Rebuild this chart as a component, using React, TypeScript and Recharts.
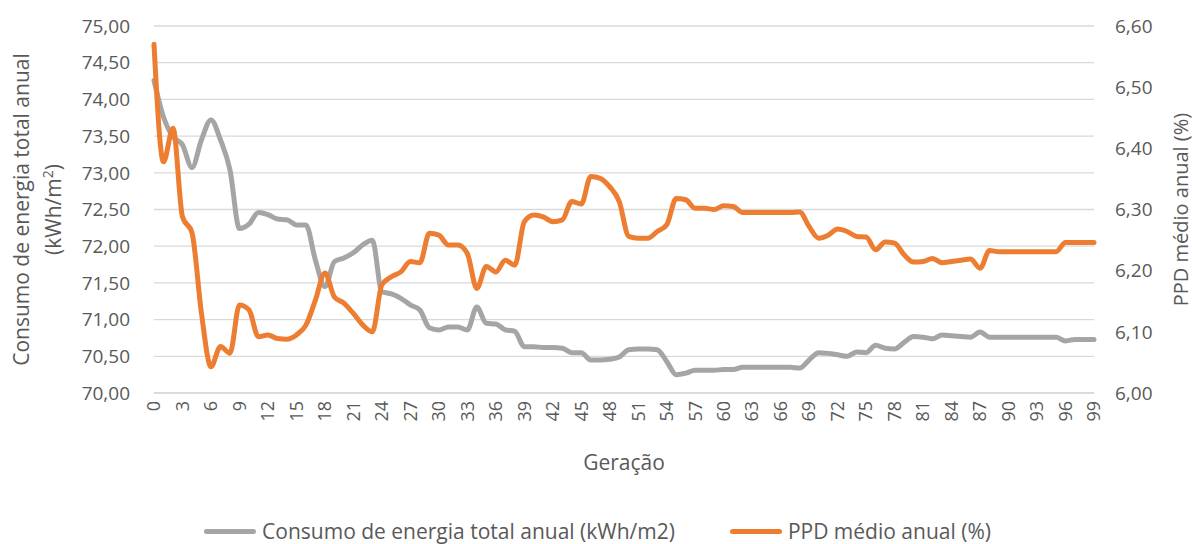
import { LineChart, Line, XAxis, YAxis, CartesianGrid, Legend } from 'recharts';

const FONT = '"Open Sans", sans-serif';
const TEXT = '#595959';

// categories: generation index
const generations = Array.from({ length: 100 }, (_, i) => i);

// Consumo de energia total anual (kWh/m2) - left axis
const consumo = [
  74.26, 73.76, 73.49, 73.38, 73.07, 73.45, 73.72, 73.45, 73.04, 72.24,
  72.3, 72.46, 72.43, 72.37, 72.36, 72.29, 72.29, 71.81, 71.45, 71.79,
  71.84, 71.91, 72.02, 72.08, 71.38, 71.35, 71.29, 71.2, 71.13, 70.89,
  70.86, 70.9, 70.9, 70.86, 71.17, 70.95, 70.94, 70.86, 70.84, 70.63,
  70.63, 70.62, 70.62, 70.61, 70.55, 70.55, 70.45, 70.45, 70.46, 70.49,
  70.59, 70.6, 70.6, 70.59, 70.43, 70.25, 70.27, 70.31, 70.31, 70.31,
  70.32, 70.32, 70.35, 70.35, 70.35, 70.35, 70.35, 70.35, 70.34, 70.45,
  70.55, 70.54, 70.52, 70.5, 70.56, 70.55, 70.65, 70.61, 70.6, 70.69,
  70.77, 70.76, 70.74, 70.79, 70.78, 70.77, 70.76, 70.83, 70.76, 70.76,
  70.76, 70.76, 70.76, 70.76, 70.76, 70.76, 70.71, 70.73, 70.73, 70.73,
];

// PPD médio anual (%) - right axis
const ppd = [
  6.57, 6.378, 6.433, 6.288, 6.262, 6.13, 6.043, 6.076, 6.065, 6.144,
  6.136, 6.092, 6.095, 6.089, 6.088, 6.095, 6.111, 6.152, 6.196, 6.157,
  6.147, 6.13, 6.111, 6.1, 6.177, 6.19, 6.198, 6.215, 6.213, 6.261,
  6.258, 6.242, 6.242, 6.228, 6.171, 6.207, 6.198, 6.217, 6.209, 6.28,
  6.291, 6.288, 6.28, 6.283, 6.313, 6.309, 6.354, 6.351, 6.337, 6.313,
  6.256, 6.253, 6.253, 6.264, 6.275, 6.318, 6.316, 6.302, 6.302, 6.3,
  6.306, 6.305, 6.295, 6.295, 6.295, 6.295, 6.295, 6.295, 6.296, 6.272,
  6.253, 6.258, 6.268, 6.264, 6.256, 6.255, 6.234, 6.247, 6.245, 6.226,
  6.214, 6.215, 6.22, 6.213, 6.215, 6.217, 6.219, 6.204, 6.233, 6.231,
  6.231, 6.231, 6.231, 6.231, 6.231, 6.231, 6.246, 6.246, 6.246, 6.246,
];

const leftTicks = [70, 70.5, 71, 71.5, 72, 72.5, 73, 73.5, 74, 74.5, 75];
const rightTicks = [6, 6.1, 6.2, 6.3, 6.4, 6.5, 6.6];

const data = generations.map((g, i) => ({
  gen: g,
  consumo: consumo[i],
  ppd: ppd[i],
}));

const fmt = (v: number) => v.toFixed(2).replace('.', ',');

function GenTick({ x, y, payload }: any) {
  return (
    <text
      x={x}
      y={y}
      transform={`rotate(-90, ${x}, ${y})`}
      textAnchor="end"
      dy="0.35em"
      fill={TEXT}
      fontSize={18}
      fontFamily={FONT}
    >
      {payload.value}
    </text>
  );
}

function LeftTitle(props: any) {
  const vb = props.viewBox || { x: 0, y: 26, width: 154, height: 367 };
  const cy = vb.y + vb.height / 2;
  const x1 = vb.x + 22;
  const x2 = vb.x + 54;
  return (
    <g fill={TEXT} fontFamily={FONT} fontSize={21}>
      <text x={x1} y={cy} transform={`rotate(-90, ${x1}, ${cy})`} textAnchor="middle" dy="0.35em">
        Consumo de energia total anual
      </text>
      <text x={x2} y={cy} transform={`rotate(-90, ${x2}, ${cy})`} textAnchor="middle" dy="0.35em">
        (kWh/m<tspan dy={-8} fontSize={14}>2</tspan><tspan dy={8}>)</tspan>
      </text>
    </g>
  );
}

function RightTitle(props: any) {
  const vb = props.viewBox || { x: 1094, y: 26, width: 101, height: 367 };
  const cy = vb.y + vb.height / 2;
  const x = vb.x + 87;
  return (
    <text
      x={x}
      y={cy}
      transform={`rotate(-90, ${x}, ${cy})`}
      textAnchor="middle"
      dy="0.35em"
      fill={TEXT}
      fontFamily={FONT}
      fontSize={20}
    >
      PPD médio anual (%)
    </text>
  );
}

function BottomTitle(props: any) {
  const vb = props.viewBox || { x: 154, y: 393, width: 940, height: 111 };
  const cx = vb.x + vb.width / 2;
  return (
    <text x={cx} y={vb.y + 70} textAnchor="middle" dy="0.35em" fill={TEXT} fontFamily={FONT} fontSize={21}>
      Geração
    </text>
  );
}

function LegendContent({ payload }: any) {
  return (
    <div
      style={{
        display: 'flex',
        justifyContent: 'center',
        alignItems: 'center',
        paddingTop: 13,
        fontFamily: FONT,
        fontSize: 21,
        color: TEXT,
      }}
    >
      {(payload || []).map((item: any, i: number) => (
        <div
          key={i}
          style={{ display: 'flex', alignItems: 'center', marginLeft: i ? 55 : 0 }}
        >
          <span
            style={{
              display: 'inline-block',
              width: 52,
              height: 5,
              borderRadius: 3,
              background: item.color,
              marginRight: 6,
            }}
          />
          <span>{item.value}</span>
        </div>
      ))}
    </div>
  );
}

export default function App() {
  return (
    <div style={{ position: 'absolute', left: 0, top: 0, width: 1195, height: 544, background: '#fff' }}>
      <LineChart
        width={1195}
        height={544}
        data={data}
        margin={{ top: 26, right: 0, left: 0, bottom: 0 }}
      >
        <CartesianGrid
          yAxisId="left"
          vertical={false}
          stroke="#D9D9D9"
          strokeWidth={1.3}
        />
        <XAxis
          dataKey="gen"
          interval={2}
          height={111}
          tick={<GenTick />}
          tickLine={false}
          tickSize={6}
          tickMargin={2}
          axisLine={{ stroke: '#D9D9D9', strokeWidth: 1.3 }}
          label={{ content: (p: any) => <BottomTitle {...p} /> }}
        />
        <YAxis
          yAxisId="left"
          orientation="left"
          width={154}
          domain={[70, 75]}
          ticks={leftTicks}
          tickFormatter={fmt}
          axisLine={false}
          tickLine={false}
          tickSize={6}
          tickMargin={18}
          tick={{ fill: TEXT, fontSize: 19, fontFamily: FONT }}
          label={{ content: (p: any) => <LeftTitle {...p} /> }}
        />
        <YAxis
          yAxisId="right"
          orientation="right"
          width={101}
          domain={[6, 6.6]}
          ticks={rightTicks}
          tickFormatter={fmt}
          axisLine={false}
          tickLine={false}
          tickSize={6}
          tickMargin={15}
          tick={{ fill: TEXT, fontSize: 19, fontFamily: FONT }}
          label={{ content: (p: any) => <RightTitle {...p} /> }}
        />
        <Legend verticalAlign="bottom" height={40} content={<LegendContent />} />
        <Line
          yAxisId="left"
          type="monotone"
          dataKey="consumo"
          name="Consumo de energia total anual (kWh/m2)"
          stroke="#A5A5A5"
          strokeWidth={5}
          strokeLinecap="round"
          strokeLinejoin="round"
          dot={false}
          isAnimationActive={false}
        />
        <Line
          yAxisId="right"
          type="monotone"
          dataKey="ppd"
          name="PPD médio anual (%)"
          stroke="#ED7D31"
          strokeWidth={5}
          strokeLinecap="round"
          strokeLinejoin="round"
          dot={false}
          isAnimationActive={false}
        />
      </LineChart>
    </div>
  );
}
